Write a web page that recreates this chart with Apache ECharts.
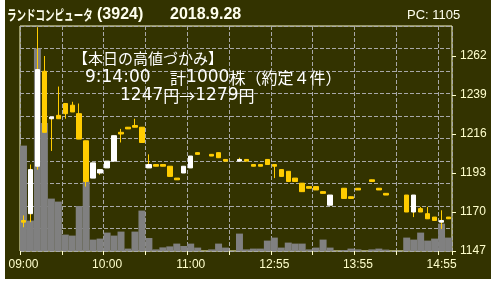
<!DOCTYPE html>
<html><head><meta charset="utf-8">
<script src="https://cdn.jsdelivr.net/npm/echarts@6/dist/echarts.min.js"></script>
<style>
html,body{margin:0;padding:0;background:#ffffff;width:496px;height:284px;overflow:hidden;}
#c{position:absolute;left:5px;top:0px;width:486px;height:279px;background:#333300;}
</style>
</head><body><div id="c"></div>
<script>
const times = ['09:00','09:05','09:10','09:15','09:20','09:25','09:30','09:35','09:40','09:45','09:50','09:55',
'10:00','10:05','10:10','10:15','10:20','10:25','10:30','10:35','10:40','10:45','10:50','10:55',
'11:00','11:05','11:10','11:15','11:20','11:25','11:30',
'12:30','12:35','12:40','12:45','12:50','12:55','13:00','13:05','13:10','13:15','13:20','13:25',
'13:30','13:35','13:40','13:45','13:50','13:55','14:00','14:05','14:10','14:15','14:20','14:25',
'14:30','14:35','14:40','14:45','14:50','14:55','15:00'];
const opens  = [1165,1169,1197,1253,1225,1227,1234,1233,1228,1212,1190,1193,1196,1200,1217,1220,1221,1220,1196,1198,1198,1197,1190,1193,1196,1205,null,1204,1205,1201,null,1200,1201,1198,1198,1201,1198,1195,1194,1190,1187,1185,1185,1182,1174,null,1184,1179,1184,null,1189,1184,1181,null,null,1180,1170,1172,1169,1167,1164,1167];
const closes = [1164,1195,1254,1217,1226,1225,1228,1229,1213,1188,1199,1195,1200,1215,1216,1219,1220,1211,1198,1197,1197,1191,1189,1197,1203,1204,null,1203,1202,1200,null,1201,1200,1197,1197,1198,1197,1191,1188,1188,1182,1184,1183,1181,1180,null,1178,1178,1183,null,1188,1183,1180,null,null,1170,1180,1170,1166,1165,1165,1166];
const lows   = [1161,1164,1195,1217,1206,1225,1225,1229,1213,1185,1190,1192,1196,1200,1211,1219,1220,1211,1196,1197,1197,1191,1189,1193,1196,1204,null,1203,1202,1200,null,1200,1200,1197,1197,1198,1190,1191,1188,1188,1182,1184,1183,1181,1174,null,1178,1178,1183,null,1188,1183,1180,null,null,1170,1167,1170,1166,1165,1160,1166];
const highs  = [1168,1198,1279,1262,1226,1244,1234,1235,1234,1212,1199,1195,1200,1215,1219,1220,1225,1220,1204,1198,1198,1197,1190,1197,1203,1205,null,1204,1205,1201,null,1202,1201,1198,1198,1201,1198,1195,1194,1190,1187,1185,1185,1182,1180,null,1184,1179,1184,null,1189,1184,1181,null,null,1180,1180,1173,1173,1167,1171,1167];
const volumes = [5270,1520,10120,6400,2620,2470,820,770,2250,3480,570,620,920,770,970,120,970,2020,650,80,180,230,370,250,370,170,0,80,370,170,0,870,80,120,120,520,670,170,420,370,370,80,170,570,170,0,50,120,80,0,80,120,70,0,0,670,570,920,520,620,1370,670];
const priceTicks = [1147,1170,1193,1216,1239,1262];
const titleName = 'ランドコンピュータ';
const titleCode = '(3924)';
const titleDate = '2018.9.28';
const pcText = 'PC: 1105';
const noteLine1 = '【本日の高値づかみ】';
const noteLine2 = '{d|9:14:00}　 計{d|1000}株（約定４件）';
const noteLine3 = '{d|1247}円→{d|1279}円';

const UP = '#ffffff', DOWN = '#ffcc00', CREAM = '#ffffcc', GRID = '#a8a8a8';
const wickData = opens.map((o,i)=> o==null ? ['-','-','-','-'] : [o, closes[i], lows[i], highs[i]]);
const bodyData = opens.map((o,i)=> o==null ? ['-','-','-','-'] : [o, closes[i], Math.min(o,closes[i]), Math.max(o,closes[i])]);

const chart = echarts.init(document.getElementById('c'), null, {renderer:'canvas'});
const jpFont = '"Noto Sans CJK JP"';
const noteStyle = {fill:'#ffffff', textShadowColor:'rgba(90,130,255,0.95)', textShadowOffsetX:-1, textShadowOffsetY:0, textShadowBlur:0};
chart.setOption({
  animation:false,
  backgroundColor:'#333300',
  grid:{left:15, right:39, top:26, height:225, show:true, borderColor:CREAM, borderWidth:1},
  xAxis:{type:'category', data:times, boundaryGap:true,
    axisLine:{show:false},
    axisTick:{show:true, interval:(i)=>i%6===0, length:4, inside:false, lineStyle:{color:CREAM}},
    splitLine:{show:true, interval:(i)=>i%6===0, lineStyle:{color:GRID, type:'dashed', width:1}},
    axisLabel:{interval:(i)=>i%12===0, color:CREAM, fontSize:12, fontFamily:'"Liberation Sans"', margin:8}
  },
  yAxis:[
    {type:'value', position:'right', min:1147, max:1279.7,
     splitLine:{show:false}, axisLine:{show:false},
     axisTick:{show:true, customValues:priceTicks, length:4, lineStyle:{color:CREAM}},
     axisLabel:{customValues:priceTicks, color:CREAM, fontSize:12, fontFamily:'"Liberation Sans"', margin:8, formatter:(v)=>String(v)}},
    {type:'value', position:'left', min:0, max:11250, interval:1125,
     axisLine:{show:false}, axisTick:{show:false},
     axisLabel:{show:true, inside:true, fontSize:1, color:'rgba(0,0,0,0)'},
     splitLine:{show:true, lineStyle:{color:GRID, type:'dashed', width:1}}}
  ],
  series:[
    {type:'bar', yAxisIndex:1, data:volumes, barWidth:'100%', barCategoryGap:'0%', itemStyle:{color:'#808080'}, z:1},
    {type:'candlestick', yAxisIndex:0, data:wickData, barWidth:1, z:3,
     itemStyle:{color:DOWN, color0:DOWN, borderColor:DOWN, borderColor0:DOWN, borderWidth:1}},
    {type:'candlestick', yAxisIndex:0, data:bodyData, barWidth:5, z:4,
     itemStyle:{color:UP, color0:DOWN, borderColor:UP, borderColor0:DOWN, borderWidth:1}}
  ],
  graphic:[
    {type:'text', x:2, y:15, scaleX:0.68, z:100, style:{text:titleName, fill:'#ffffee', font:'bold 14px '+jpFont, textVerticalAlign:'middle'}},
    {type:'text', x:92, y:15, z:100, style:{text:titleCode, fill:'#ffffee', font:'bold 16px "Liberation Sans"', textVerticalAlign:'middle'}},
    {type:'text', x:165, y:15, z:100, style:{text:titleDate, fill:'#ffffee', font:'bold 16px "Liberation Sans"', textVerticalAlign:'middle'}},
    {type:'text', x:402, y:15, z:100, style:{text:pcText, fill:'#ffffee', font:'13px "Liberation Sans"', textVerticalAlign:'middle'}},
    {type:'text', x:68, y:58, z:100, style:Object.assign({text:noteLine1, font:'15px '+jpFont, textVerticalAlign:'middle'}, noteStyle)},
    {type:'text', x:80, y:78, z:100, style:Object.assign({text:noteLine2, font:'16px '+jpFont, textVerticalAlign:'middle',
       rich:{d:{fontFamily:'"DejaVu Sans"', fontSize:17, fill:'#ffffff'}}}, noteStyle)},
    {type:'text', x:115, y:96, z:100, style:Object.assign({text:noteLine3, font:'16px '+jpFont, textVerticalAlign:'middle',
       rich:{d:{fontFamily:'"DejaVu Sans"', fontSize:17, fill:'#ffffff'}}}, noteStyle)}
  ]
});
</script>
</body></html>
